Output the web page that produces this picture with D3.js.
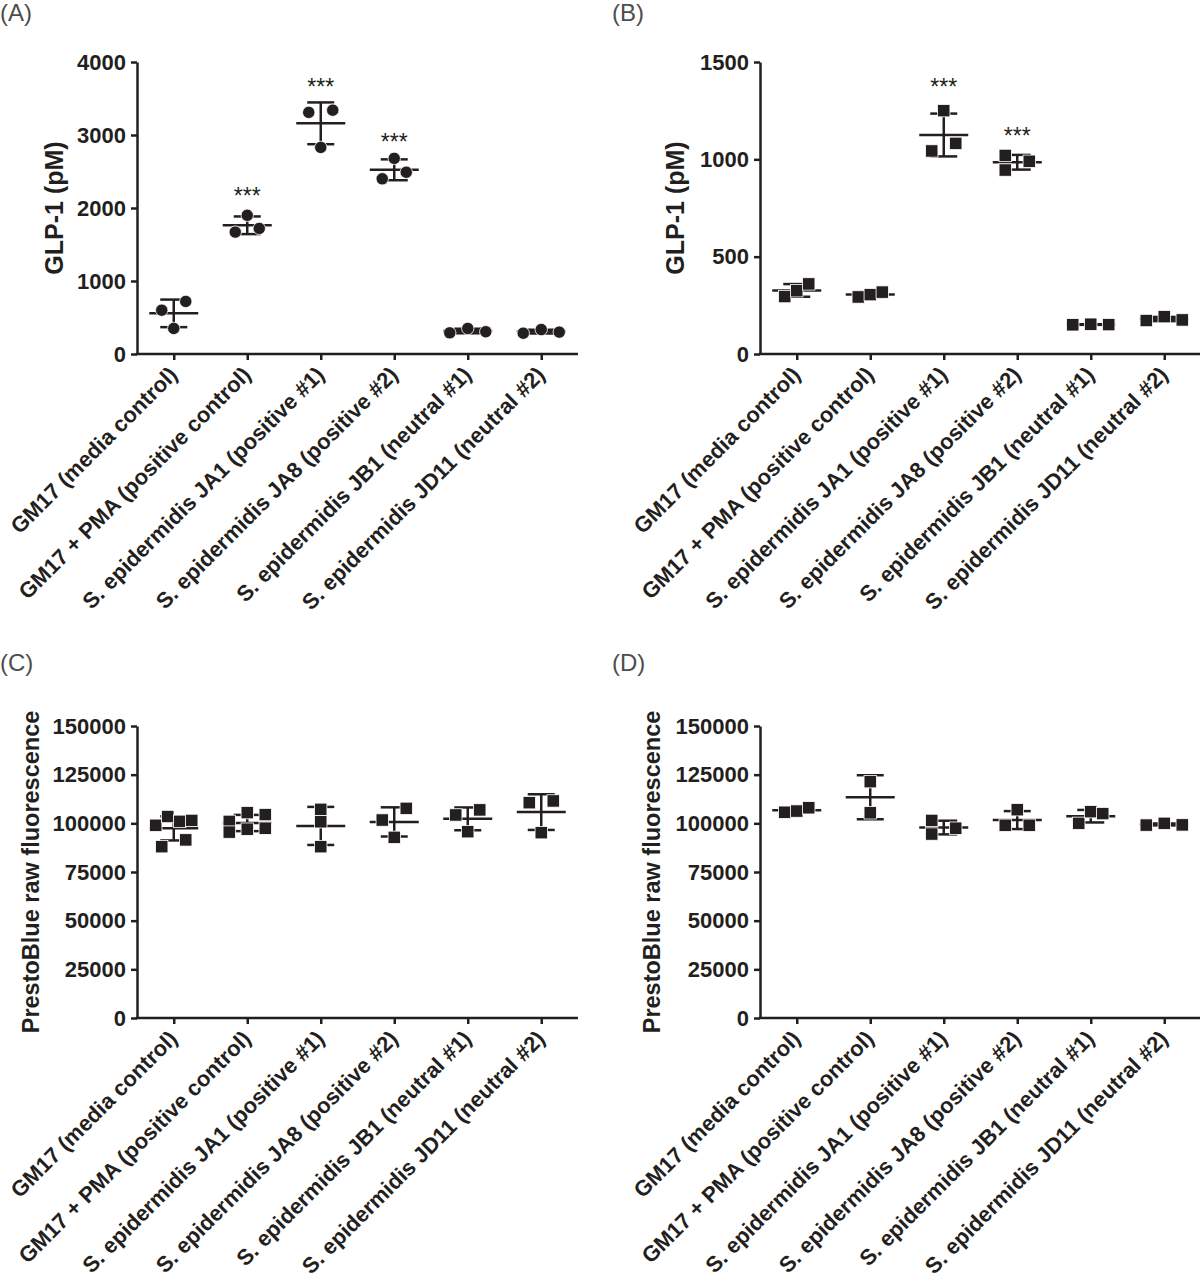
<!DOCTYPE html>
<html>
<head>
<meta charset="utf-8">
<script src="https://cdn.jsdelivr.net/npm/d3@7"></script>
<style>
  body { margin: 0; background: #fff; }
  text { font-family: "Liberation Sans", Arial, Helvetica, sans-serif; }
</style>
</head>
<body>
<svg id="fig" width="1200" height="1280"></svg>
<script>
/************************************ Data *******************************/
var categories = ["GM17 (media control)", "GM17 + PMA (positive control)",
  "S. epidermidis JA1 (positive #1)", "S. epidermidis JA8 (positive #2)",
  "S. epidermidis JB1 (neutral #1)", "S. epidermidis JD11 (neutral #2)"];

// (A) GLP-1, pM
var glpA = [[600, 720, 350], [1670, 1720, 1900], [3310, 3340, 2830],
  [2400, 2490, 2680], [290, 350, 305], [285, 335, 300]];
var slotsA = [[-2, 2, 0], [-2, 2, 0], [-2, 2, 0], [-2, 2, 0], [-3, 0, 3], [-3, 0, 3]];
var starsA = [null, 2055, 3548, 2795, null, null];
var ticksA = [0, 1000, 2000, 3000, 4000];

// (B) GLP-1, pM
var glpB = [[295, 325, 360], [293, 305, 318], [1043, 1250, 1082],
  [1020, 945, 990], [150, 153, 151], [172, 192, 175]];
var slotsB = [[-2, 0, 2], [-2, 0, 2], [-2, 0, 2], [-2, -2, 2], [-3, 0, 3], [-3, 0, 3]];
var starsB = [null, null, 1330, 1079, null, null];
var ticksB = [0, 500, 1000, 1500];

// (C) PrestoBlue raw fluorescence
var prestoC = [[99000, 103500, 101000, 101500, 88000, 91500],
  [101000, 95500, 105500, 97000, 104500, 97500],
  [107200, 100800, 88000], [101700, 107700, 92800],
  [104300, 106900, 95700], [110600, 111500, 95200]];
var slotsC = [[-3, -1, 1, 3, -2, 2], [-3, -3, 0, 0, 3, 3], [0, 0, 0], [-2, 2, 0], [-2, 2, 0], [-2, 2, 0]];

// (D) PrestoBlue raw fluorescence
var prestoD = [[105700, 106300, 108000], [121400, 105400], [101500, 94500, 97500],
  [107000, 99000, 99000], [100000, 106000, 105000], [99100, 100000, 99200]];
var slotsD = [[-2, 0, 2], [0, 0], [-2, -2, 2], [0, -2, 2], [-2, 0, 2], [-3, 0, 3]];
var ticksCD = [0, 25000, 50000, 75000, 100000, 125000, 150000];

/************************************ Drawing *******************************/
var ink = "#231f20";
var plotW = 441, plotH = 292, slotStep = 6;
var svg = d3.select("#fig");
svg.append("rect").attr("width", 1200).attr("height", 1280).attr("fill", "#fff");

function drawPanel(p) {
  var g = svg.append("g");
  var x = d3.scalePoint().domain(categories).range([p.x0, p.x0 + plotW]).padding(0.5);
  var y = d3.scaleLinear().domain([0, d3.max(p.ticks)]).range([p.y0 + plotH, p.y0]);

  // panel letter
  g.append("text").attr("x", p.letterX).attr("y", p.letterY)
    .attr("font-size", 24).attr("fill", "#4d4d4d").text(p.letter);

  // y axis
  var ya = g.append("g").attr("transform", "translate(" + p.x0 + ",0)")
    .call(d3.axisLeft(y).tickValues(p.ticks).tickSize(6).tickSizeOuter(0)
      .tickPadding(5).tickFormat(d3.format("d")));
  ya.selectAll("path, line").attr("stroke", ink).attr("stroke-width", 2.5);
  ya.selectAll("text").attr("font-size", 22).attr("font-weight", "bold")
    .attr("fill", ink).attr("font-family", null);

  // x axis
  var xa = g.append("g").attr("transform", "translate(0," + (p.y0 + plotH) + ")")
    .call(d3.axisBottom(x).tickSize(6).tickSizeOuter(0).tickFormat(""));
  xa.select(".domain").attr("d", "M" + (p.x0 - 1.25) + ",0H" + (p.x0 + plotW));
  xa.selectAll("path, line").attr("stroke", ink).attr("stroke-width", 2.5);

  // rotated category labels
  g.selectAll(".cat").data(categories).join("text")
    .attr("class", "cat")
    .attr("transform", function(d) {
      return "translate(" + (x(d) + 5) + "," + (p.y0 + plotH + 22) + ") rotate(-45)";
    })
    .attr("text-anchor", "end").attr("font-size", 22).attr("font-weight", "bold")
    .attr("fill", ink).text(function(d) { return d; });

  // y title
  g.append("text")
    .attr("transform", "translate(" + p.titleX + "," + (p.y0 + plotH / 2) + ") rotate(-90)")
    .attr("text-anchor", "middle").attr("font-size", p.titleSize).attr("font-weight", "bold")
    .attr("fill", ink).text(p.title);

  // groups: mean +/- SD, then points
  p.values.forEach(function(vals, i) {
    var cx = x(categories[i]);
    var m = d3.mean(vals), sd = d3.deviation(vals);
    var gg = g.append("g").attr("stroke", ink).attr("stroke-width", 2.5);
    gg.append("line").attr("x1", cx).attr("x2", cx).attr("y1", y(m - sd)).attr("y2", y(m + sd));
    gg.append("line").attr("x1", cx - 13.5).attr("x2", cx + 13.5).attr("y1", y(m + sd)).attr("y2", y(m + sd));
    gg.append("line").attr("x1", cx - 13.5).attr("x2", cx + 13.5).attr("y1", y(m - sd)).attr("y2", y(m - sd));
    gg.append("line").attr("x1", cx - 24.5).attr("x2", cx + 24.5).attr("y1", y(m)).attr("y2", y(m));

    var pts = vals.map(function(v, j) { return {x: cx + p.slots[i][j] * slotStep, y: y(v)}; });
    if (p.marker == "circle") {
      g.selectAll(null).data(pts).join("circle")
        .attr("cx", function(d) { return d.x; }).attr("cy", function(d) { return d.y; })
        .attr("r", 6.2).attr("fill", ink).attr("stroke", "#fff").attr("stroke-width", 0.8);
    } else {
      g.selectAll(null).data(pts).join("rect")
        .attr("x", function(d) { return d.x - 6.2; }).attr("y", function(d) { return d.y - 6.2; })
        .attr("width", 12.4).attr("height", 12.4).attr("fill", ink)
        .attr("stroke", "#fff").attr("stroke-width", 0.8);
    }

    if (p.stars && p.stars[i] != null) {
      g.append("text").attr("x", cx).attr("y", y(p.stars[i]))
        .attr("text-anchor", "middle").attr("font-size", 23).attr("fill", ink).text("***");
    }
  });
}

drawPanel({letter: "(A)", letterX: 0, letterY: 21, x0: 137, y0: 62, ticks: ticksA,
  title: "GLP-1 (pM)", titleX: 63, titleSize: 25, values: glpA, slots: slotsA, stars: starsA, marker: "circle"});
drawPanel({letter: "(B)", letterX: 612, letterY: 21, x0: 760, y0: 62, ticks: ticksB,
  title: "GLP-1 (pM)", titleX: 684, titleSize: 25, values: glpB, slots: slotsB, stars: starsB, marker: "square"});
drawPanel({letter: "(C)", letterX: 0, letterY: 671, x0: 137, y0: 726, ticks: ticksCD,
  title: "PrestoBlue raw fluorescence", titleX: 39, titleSize: 23.5, values: prestoC, slots: slotsC, marker: "square"});
drawPanel({letter: "(D)", letterX: 612, letterY: 671, x0: 760, y0: 726, ticks: ticksCD,
  title: "PrestoBlue raw fluorescence", titleX: 660, titleSize: 23.5, values: prestoD, slots: slotsD, marker: "square"});
</script>
</body>
</html>
